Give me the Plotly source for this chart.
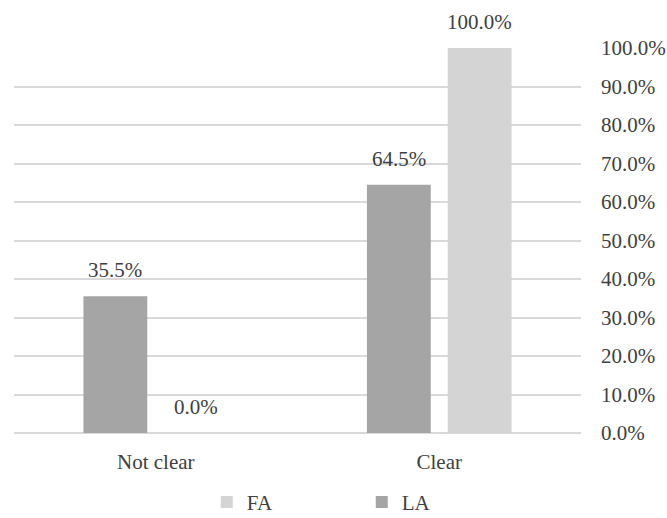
import plotly.graph_objects as go

categories = ["Not clear", "Clear"]
la_values = [35.5, 64.5]
fa_values = [0.0, 100.0]
y_ticks = [0, 10, 20, 30, 40, 50, 60, 70, 80, 90, 100]
y_tick_labels = [f"{v:.1f}%" for v in y_ticks]

FONT = dict(family="Liberation Serif, Times New Roman, serif", size=21, color="#404040")

W, H = 667, 518
MARGIN = dict(l=14, r=86, t=48, b=85)
BARGAP, BARGROUPGAP = 0.43, 0.21

fig = go.Figure()
fig.add_trace(go.Bar(
    name="LA", x=categories, y=la_values,
    marker=dict(color="#a5a5a5", line=dict(width=0)),
))
fig.add_trace(go.Bar(
    name="FA", x=categories, y=fa_values,
    marker=dict(color="#d4d4d4", line=dict(width=0)),
))

# value labels above each bar, shifted sideways to the bar's slot in its group
plot_w = W - MARGIN["l"] - MARGIN["r"]
slot_px = plot_w / len(categories) * (1 - BARGAP) / 2
annotations = []
for series, sign in ((la_values, -1), (fa_values, 1)):
    for cat, val in zip(categories, series):
        annotations.append(dict(
            x=cat, y=val, xref="x", yref="y",
            text=f"{val:.1f}%", showarrow=False,
            xanchor="center", yanchor="bottom",
            xshift=sign * slot_px / 2, yshift=12,
            font=FONT,
        ))

fig.update_layout(
    width=W, height=H,
    margin=MARGIN,
    paper_bgcolor="white", plot_bgcolor="white",
    font=FONT,
    barmode="group", bargap=BARGAP, bargroupgap=BARGROUPGAP,
    showlegend=True,
    legend=dict(
        orientation="h", traceorder="reversed",
        xref="container", yref="container",
        x=0.31, xanchor="left", y=0.03, yanchor="middle",
        entrywidth=110, entrywidthmode="pixels",
        font=FONT, itemclick=False,
    ),
    annotations=annotations,
)
fig.update_xaxes(
    showgrid=False, showline=False, zeroline=False, automargin=False,
    ticks="", ticklabelstandoff=14, tickfont=FONT,
)
fig.update_yaxes(
    side="right", range=[0, 100], automargin=False,
    tickvals=y_ticks, ticktext=y_tick_labels,
    showgrid=True, gridcolor="#d9d9d9", gridwidth=1.5,
    zeroline=True, zerolinecolor="#d9d9d9", zerolinewidth=1.5,
    showline=False, ticks="", ticklabelstandoff=19, tickfont=FONT,
)

fig.write_html("out.html")
